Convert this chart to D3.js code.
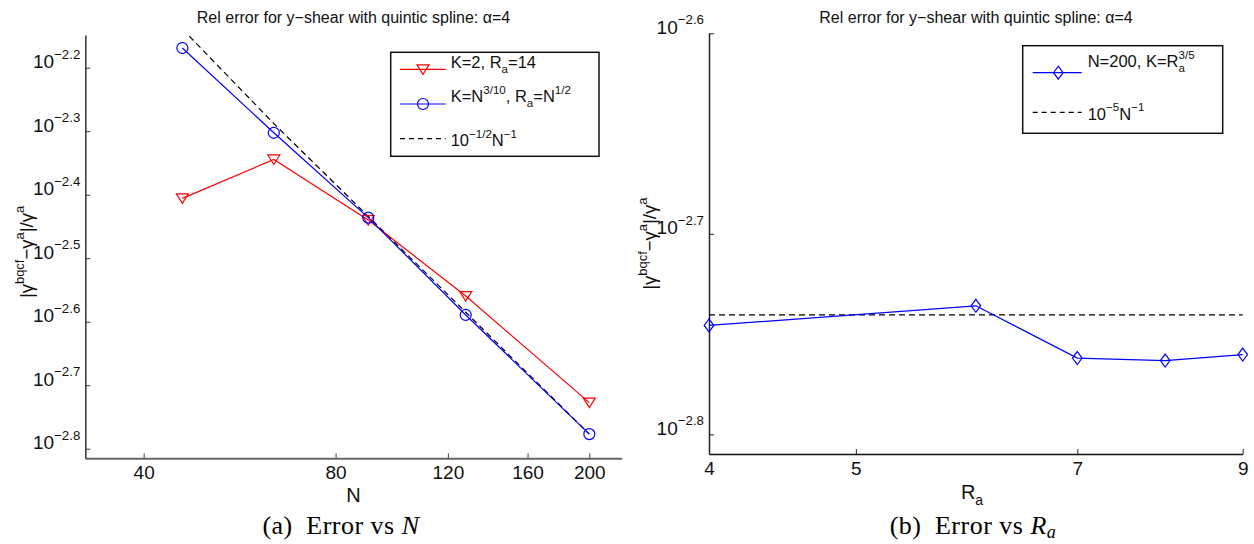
<!DOCTYPE html>
<html>
<head>
<meta charset="utf-8">
<script src="https://d3js.org/d3.v7.min.js"></script>
<style>
  body { margin: 0; background: #fff; }
  svg { display: block; }
</style>
</head>
<body>
<svg id="chart" width="1254" height="544"></svg>
<script>
// ---- data ----
// left panel: error vs N
var nValues = [46, 64, 90, 128, 200];
var errFixedK = [0.003928, 0.004524, 0.003631, 0.002757, 0.001873];   // K=2, Ra=14
var errScaledK = [0.006776, 0.004983, 0.003664, 0.002574, 0.001671];  // K=N^3/10, Ra=N^1/2
var refLeft = [0.007261, 0.005152, 0.003681, 0.002600, 0.001671];     // 10^-1/2 N^-1
var leftXTicks = [40, 80, 120, 160, 200];
var leftYTickExp = [-2.8, -2.7, -2.6, -2.5, -2.4, -2.3, -2.2];

// right panel: error vs Ra
var raValues = [4, 6, 7, 8, 9];
var errRa = [0.001796, 0.001837, 0.001730, 0.001725, 0.001737];      // N=200, K=Ra^3/5
var refRaX = [4, 9];
var refRaY = [0.001818, 0.001818];                                     // 10^-5 N^-1
var rightXTicks = [4, 5, 7, 9];
var rightYTickExp = [-2.8, -2.7, -2.6];

var titleText = "Rel error for y\u2212shear with quintic spline: \u03b1=4";
var FONT = "'Liberation Sans', Arial, Helvetica, sans-serif";
var TICK = 19, LEG = 16.5, TITLE = 16, YLAB = 18.5;

var svg = d3.select("#chart");

// parts: [text, kind] kind = undefined | "sup" | "sub"
function rich(textSel, parts, size) {
    var off = 0;
    parts.forEach(function (p) {
        var kind = p[1];
        var target = kind === "sup" ? -0.5 * size : (kind === "sub" ? 0.32 * size : 0);
        var fs = kind ? size * 0.7 : size;
        textSel.append("tspan")
            .attr("dy", (target - off) + "px")
            .attr("font-size", fs + "px")
            .text(p[0]);
        off = target;
    });
    return textSel;
}

function pow10(e) { return Math.pow(10, e); }

// ================= LEFT PANEL =================
var xL = d3.scaleLog().domain([32.4, 224.8]).range([85.3, 621.7]);
var yL = d3.scaleLog().domain([pow10(-2.8151), pow10(-2.1485)]).range([458.3, 35]);

svg.append("clipPath").attr("id", "clipL")
    .append("rect").attr("x", 85.3).attr("y", 35).attr("width", 621.7 - 85.3).attr("height", 458.3 - 35);

var gxL = svg.append("g")
    .attr("transform", "translate(0,458.3)")
    .call(d3.axisBottom(xL).tickValues(leftXTicks).tickFormat(d3.format("d"))
        .tickSizeInner(-5).tickSizeOuter(0).tickPadding(7));
gxL.select(".domain").attr("stroke", "#666").attr("stroke-width", 2);
gxL.selectAll(".tick line").attr("stroke", "#444");
gxL.selectAll(".tick text").attr("font-family", FONT).attr("font-size", TICK).attr("fill", "#111");

var gyL = svg.append("g")
    .attr("transform", "translate(85.3,0)")
    .call(d3.axisLeft(yL).tickValues(leftYTickExp.map(pow10)).tickFormat("")
        .tickSizeInner(-5).tickSizeOuter(0).tickPadding(5));
gyL.select(".domain").attr("stroke", "#333").attr("stroke-width", 1.5);
gyL.selectAll(".tick line").attr("stroke", "#333");
gyL.selectAll(".tick text").each(function (d, i) {
    var t = d3.select(this).attr("font-family", FONT).attr("fill", "#111").attr("dy", "0.36em");
    t.text("");
    rich(t, [["10"], ["\u2212" + Math.abs(leftYTickExp[i]).toFixed(1), "sup"]], TICK);
});

var lineL = d3.line().x(function (d) { return xL(d[0]); }).y(function (d) { return yL(d[1]); });
var plotL = svg.append("g").attr("clip-path", "url(#clipL)");

plotL.append("path").datum(d3.zip(nValues, refLeft)).attr("d", lineL)
    .attr("fill", "none").attr("stroke", "#000").attr("stroke-width", 1.2).attr("stroke-dasharray", "6,4");
plotL.append("path").datum(d3.zip(nValues, errFixedK)).attr("d", lineL)
    .attr("fill", "none").attr("stroke", "#f00").attr("stroke-width", 1.2);
plotL.append("path").datum(d3.zip(nValues, errScaledK)).attr("d", lineL)
    .attr("fill", "none").attr("stroke", "#00f").attr("stroke-width", 1.2);

var triDown = "M-6,-4.5L6,-4.5L0,5Z";
var diamond = "M0,-6.5L4.8,0L0,6.5L-4.8,0Z";

plotL.selectAll(".tri").data(d3.zip(nValues, errFixedK)).enter().append("path")
    .attr("d", triDown)
    .attr("transform", function (d) { return "translate(" + xL(d[0]) + "," + yL(d[1]) + ")"; })
    .attr("fill", "none").attr("stroke", "#f00").attr("stroke-width", 1.2);
plotL.selectAll(".circ").data(d3.zip(nValues, errScaledK)).enter().append("circle")
    .attr("cx", function (d) { return xL(d[0]); })
    .attr("cy", function (d) { return yL(d[1]); })
    .attr("r", 5.5)
    .attr("fill", "none").attr("stroke", "#00f").attr("stroke-width", 1.2);

svg.append("text").attr("x", 353.5).attr("y", 23).attr("text-anchor", "middle")
    .attr("font-family", FONT).attr("font-size", TITLE).attr("fill", "#111").text(titleText);

svg.append("text").attr("x", 353.5).attr("y", 502).attr("text-anchor", "middle")
    .attr("font-family", FONT).attr("font-size", 20).attr("fill", "#111").text("N");

var ylabL = svg.append("text").attr("transform", "translate(33,252) rotate(-90)")
    .attr("text-anchor", "middle").attr("font-family", FONT).attr("fill", "#111");
rich(ylabL, [["|\u03b3"], ["bqcf", "sup"], ["\u2212\u03b3"], ["a", "sup"], ["|/\u03b3"], ["a", "sup"]], YLAB);

// legend left
var legL = svg.append("g");
legL.append("rect").attr("x", 390.7).attr("y", 52.3).attr("width", 208.3).attr("height", 104)
    .attr("fill", "#fff").attr("stroke", "#111").attr("stroke-width", 1.5);
var legRows = [
    { y: 69.3, color: "#f00", dash: null, mark: "tri", dy: -1.5,
      parts: [["K=2, R"], ["a", "sub"], ["=14"]] },
    { y: 104, color: "#00f", dash: null, mark: "circ", dy: -2,
      parts: [["K=N"], ["3/10", "sup"], [", R"], ["a", "sub"], ["=N"], ["1/2", "sup"]] },
    { y: 138.7, color: "#000", dash: "5,4", mark: null, dy: 7.5,
      parts: [["10"], ["\u22121/2", "sup"], ["N"], ["\u22121", "sup"]] }
];
legRows.forEach(function (r) {
    legL.append("line").attr("x1", 400).attr("x2", 445.7).attr("y1", r.y).attr("y2", r.y)
        .attr("stroke", r.color).attr("stroke-width", 1.2).attr("stroke-dasharray", r.dash);
    if (r.mark === "tri") {
        legL.append("path").attr("d", triDown).attr("transform", "translate(423," + r.y + ")")
            .attr("fill", "none").attr("stroke", r.color).attr("stroke-width", 1.2);
    } else if (r.mark === "circ") {
        legL.append("circle").attr("cx", 423).attr("cy", r.y).attr("r", 5.5)
            .attr("fill", "none").attr("stroke", r.color).attr("stroke-width", 1.2);
    }
    var t = legL.append("text").attr("x", 450.7).attr("y", r.y + r.dy)
        .attr("font-family", FONT).attr("fill", "#111");
    rich(t, r.parts, LEG);
});

// ================= RIGHT PANEL =================
var xR = d3.scaleLog().domain([4, 9]).range([709, 1242.7]);
var yR = d3.scaleLog().domain([pow10(-2.8098), pow10(-2.6)]).range([454, 33.3]);

var gxR = svg.append("g")
    .attr("transform", "translate(0,454)")
    .call(d3.axisBottom(xR).tickValues(rightXTicks).tickFormat(d3.format("d"))
        .tickSizeInner(-5).tickSizeOuter(0).tickPadding(8));
gxR.select(".domain").attr("stroke", "#111").attr("stroke-width", 1.5);
gxR.selectAll(".tick line").attr("stroke", "#222");
gxR.selectAll(".tick text").attr("font-family", FONT).attr("font-size", TICK).attr("fill", "#111");

var gyR = svg.append("g")
    .attr("transform", "translate(709,0)")
    .call(d3.axisLeft(yR).tickValues(rightYTickExp.map(pow10)).tickFormat("")
        .tickSizeInner(-5).tickSizeOuter(0).tickPadding(5));
gyR.select(".domain").attr("stroke", "#222").attr("stroke-width", 1.5);
gyR.selectAll(".tick line").attr("stroke", "#222");
gyR.selectAll(".tick text").each(function (d, i) {
    var t = d3.select(this).attr("font-family", FONT).attr("fill", "#111").attr("dy", "0.36em");
    t.text("");
    rich(t, [["10"], ["\u2212" + Math.abs(rightYTickExp[i]).toFixed(1), "sup"]], TICK);
});

var lineR = d3.line().x(function (d) { return xR(d[0]); }).y(function (d) { return yR(d[1]); });

svg.append("path").datum(d3.zip(refRaX, refRaY)).attr("d", lineR)
    .attr("fill", "none").attr("stroke", "#000").attr("stroke-width", 1.2).attr("stroke-dasharray", "6,4");
svg.append("path").datum(d3.zip(raValues, errRa)).attr("d", lineR)
    .attr("fill", "none").attr("stroke", "#00f").attr("stroke-width", 1.2);
svg.selectAll(".dia").data(d3.zip(raValues, errRa)).enter().append("path")
    .attr("d", diamond)
    .attr("transform", function (d) { return "translate(" + xR(d[0]) + "," + yR(d[1]) + ")"; })
    .attr("fill", "none").attr("stroke", "#00f").attr("stroke-width", 1.2);

svg.append("text").attr("x", 976).attr("y", 23).attr("text-anchor", "middle")
    .attr("font-family", FONT).attr("font-size", TITLE).attr("fill", "#111").text(titleText);

var xlabR = svg.append("text").attr("x", 972).attr("y", 499).attr("text-anchor", "middle")
    .attr("font-family", FONT).attr("fill", "#111");
rich(xlabR, [["R"], ["a", "sub"]], 20);

var ylabR = svg.append("text").attr("transform", "translate(656,243.7) rotate(-90)")
    .attr("text-anchor", "middle").attr("font-family", FONT).attr("fill", "#111");
rich(ylabR, [["|\u03b3"], ["bqcf", "sup"], ["\u2212\u03b3"], ["a", "sup"], ["|/\u03b3"], ["a", "sup"]], YLAB);

// legend right
var legR = svg.append("g");
legR.append("rect").attr("x", 1022.7).attr("y", 45.7).attr("width", 200).attr("height", 87.6)
    .attr("fill", "#fff").attr("stroke", "#111").attr("stroke-width", 1.5);
legR.append("line").attr("x1", 1032.7).attr("x2", 1081.7).attr("y1", 72.7).attr("y2", 72.7)
    .attr("stroke", "#00f").attr("stroke-width", 1.2);
legR.append("path").attr("d", diamond).attr("transform", "translate(1058.3,72.7)")
    .attr("fill", "none").attr("stroke", "#00f").attr("stroke-width", 1.2);
var tR1 = legR.append("text").attr("x", 1087.7).attr("y", 67)
    .attr("font-family", FONT).attr("fill", "#111");
rich(tR1, [["N=200, K=R"], ["3/5", "sup"]], LEG);
// subscript a stacked under the 3/5
var baseLen = tR1.select("tspan").node().getComputedTextLength();
legR.append("text").attr("x", 1087.7 + baseLen).attr("y", 67 + 0.32 * LEG)
    .attr("font-family", FONT).attr("font-size", LEG * 0.7).attr("fill", "#111").text("a");
legR.append("line").attr("x1", 1032.7).attr("x2", 1081.7).attr("y1", 112.3).attr("y2", 112.3)
    .attr("stroke", "#000").attr("stroke-width", 1.2).attr("stroke-dasharray", "5,4");
var tR2 = legR.append("text").attr("x", 1087.7).attr("y", 119.5)
    .attr("font-family", FONT).attr("fill", "#111");
rich(tR2, [["10"], ["\u22125", "sup"], ["N"], ["\u22121", "sup"]], LEG);

// ================= CAPTIONS =================
var SERIF = "'Liberation Serif', 'DejaVu Serif', serif";
var capA = svg.append("text").attr("x", 341).attr("y", 534).attr("text-anchor", "middle")
    .attr("font-family", SERIF).attr("font-size", 26).attr("letter-spacing", 0.5).attr("fill", "#000");
capA.append("tspan").text("(a)\u2002Error vs ");
capA.append("tspan").attr("font-style", "italic").text("N");

var capB = svg.append("text").attr("x", 973).attr("y", 534).attr("text-anchor", "middle")
    .attr("font-family", SERIF).attr("font-size", 26).attr("letter-spacing", 0.5).attr("fill", "#000");
capB.append("tspan").text("(b)\u2002Error vs ");
capB.append("tspan").attr("font-style", "italic").text("R");
capB.append("tspan").attr("font-style", "italic").attr("font-size", 18).attr("dy", 4).text("a");
</script>
</body>
</html>
